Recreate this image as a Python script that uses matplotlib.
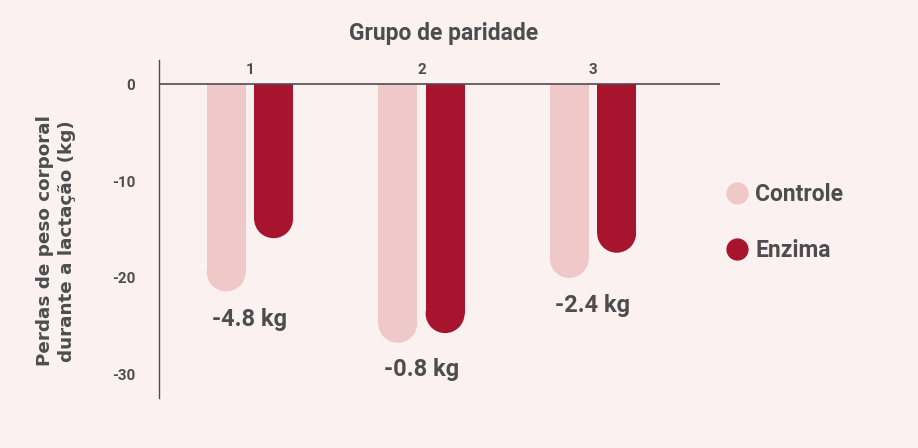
import matplotlib
matplotlib.use("Agg")
import matplotlib.pyplot as plt
from matplotlib.patches import Ellipse
from matplotlib.lines import Line2D

# data
groups = ["1", "2", "3"]
controle = [-21.4, -26.7, -20.0]
enzima = [-15.9, -25.7, -17.4]
diff_labels = ["-4.8 kg", "-0.8 kg", "-2.4 kg"]
diff_y = [-24.3, -29.5, -22.8]
yticks = [0, -10, -20, -30]

BG = "#FBF1F1"
C_CTRL = "#EFC8C8"
C_ENZ = "#A6142E"
TXT = "#4D4D4F"

plt.rcParams['font.family'] = ['Roboto', 'DejaVu Sans']

fig = plt.figure(figsize=(9.18, 4.48), dpi=100, facecolor=BG)
ax = fig.add_axes([0.1732, 0.1116, 0.611, 0.7545])
ax.set_facecolor(BG)

xlim = (0.47, 3.74)
ylim = (-32.4, 2.5)
ax.set_xlim(*xlim)
ax.set_ylim(*ylim)

width = 0.227
offset = 0.138
x = [1, 2, 3]

# cap radius expressed in data units so caps look round on screen
ax_w_px = 0.611 * 918
ax_h_px = 0.7545 * 448
px_per_x = ax_w_px / (xlim[1] - xlim[0])
px_per_y = ax_h_px / (ylim[1] - ylim[0])
r_y = (width * px_per_x / 2) / px_per_y

for vals, col, sgn in [(controle, C_CTRL, -1), (enzima, C_ENZ, 1)]:
    xs = [xi + sgn * offset for xi in x]
    ax.bar(xs, [v + r_y for v in vals], width=width, color=col, linewidth=0)
    for xi, v in zip(xs, vals):
        ax.add_patch(Ellipse((xi, v + r_y), width, 2 * r_y, color=col, linewidth=0))

for xi, lab, yy in zip(x, diff_labels, diff_y):
    ax.text(xi, yy, lab, ha='center', va='center', fontsize=17,
            fontweight='bold', color=TXT)

ax.axhline(0, color=TXT, linewidth=1.2, zorder=3)

for s in ['top', 'right', 'bottom']:
    ax.spines[s].set_visible(False)
ax.spines['left'].set_color(TXT)
ax.spines['left'].set_linewidth(1.0)

ax.xaxis.tick_top()
ax.set_xticks(x)
ax.set_xticklabels(groups, fontsize=11, fontweight='bold', color=TXT)
ax.tick_params(axis='x', length=0, pad=-12)
ax.set_yticks(yticks)
ax.set_yticklabels([str(t) for t in yticks], fontsize=11, fontweight='bold', color=TXT)
ax.tick_params(axis='y', length=0, pad=17)

fig.text(0.483, 0.926, "Grupo de paridade", ha='center', va='center',
         fontsize=16.5, fontweight='bold', color=TXT)
fig.text(0.061, 0.462, "Perdas de peso corporal\ndurante a lactação (kg)",
         rotation=90, ha='center', va='center', fontsize=13.2, fontweight='bold',
         color=TXT, family='DejaVu Sans', linespacing=1.3)

handles = [Line2D([], [], marker='o', linestyle='none', markersize=16,
                  markerfacecolor=C_CTRL, markeredgewidth=0),
           Line2D([], [], marker='o', linestyle='none', markersize=16,
                  markerfacecolor=C_ENZ, markeredgewidth=0)]
leg = fig.legend(handles, ["Controle", "Enzima"], loc='center left',
                 bbox_to_anchor=(0.768, 0.503), frameon=False,
                 prop={'size': 16.5, 'weight': 'bold'}, labelspacing=1.45,
                 handletextpad=0.3, handlelength=1.0)
for t in leg.get_texts():
    t.set_color(TXT)

fig.savefig("out.png", dpi=100, facecolor=BG)
